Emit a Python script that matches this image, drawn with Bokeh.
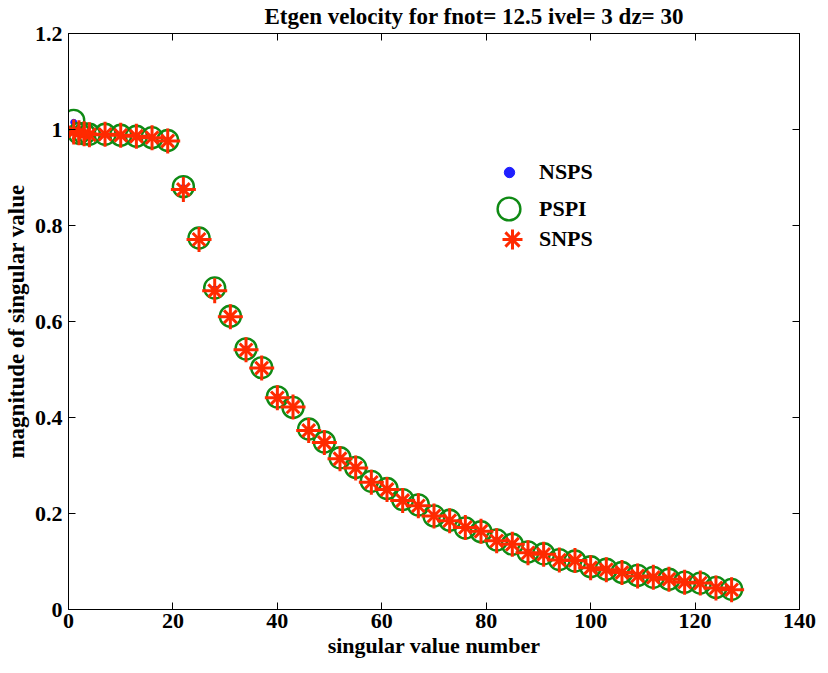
from bokeh.plotting import figure
from bokeh.models import (Range1d, LinearAxis, FixedTicker, Legend, LegendItem,
                          CustomLabelingPolicy)
from bokeh.embed import file_html
from bokeh.resources import INLINE

# ---------------- data ----------------
sv_number = [1, 2, 3, 4, 7, 10, 13, 16, 19, 22, 25, 28, 31, 34, 37, 40, 43, 46, 49,
             52, 55, 58, 61, 64, 67, 70, 73, 76, 79, 82, 85, 88, 91, 94, 97, 100,
             103, 106, 109, 112, 115, 118, 121, 124, 127]
nsps = [1.015, 0.994, 0.992, 0.990, 0.990, 0.988, 0.986, 0.983, 0.977, 0.879, 0.772,
        0.668, 0.610, 0.543, 0.503, 0.443, 0.422, 0.374, 0.349, 0.315, 0.296, 0.267,
        0.251, 0.228, 0.217, 0.196, 0.186, 0.171, 0.163, 0.144, 0.136, 0.120, 0.115,
        0.104, 0.102, 0.088, 0.084, 0.077, 0.071, 0.067, 0.063, 0.057, 0.055, 0.046, 0.042]
pspi = [1.019, 0.992, 0.991, 0.990, 0.990, 0.988, 0.986, 0.983, 0.977, 0.881, 0.774,
        0.670, 0.611, 0.543, 0.504, 0.443, 0.421, 0.376, 0.349, 0.316, 0.296, 0.267,
        0.252, 0.229, 0.218, 0.195, 0.186, 0.170, 0.162, 0.145, 0.136, 0.120, 0.116,
        0.104, 0.101, 0.089, 0.084, 0.077, 0.071, 0.067, 0.063, 0.057, 0.055, 0.046, 0.042]
snps = [0.995, 0.993, 0.991, 0.989, 0.990, 0.988, 0.986, 0.983, 0.976, 0.875, 0.771,
        0.664, 0.610, 0.541, 0.503, 0.441, 0.422, 0.373, 0.348, 0.314, 0.295, 0.265,
        0.250, 0.227, 0.216, 0.195, 0.185, 0.171, 0.163, 0.143, 0.136, 0.118, 0.115,
        0.103, 0.102, 0.087, 0.083, 0.077, 0.070, 0.067, 0.063, 0.057, 0.055, 0.045, 0.041]

x_ticks = [0, 20, 40, 60, 80, 100, 120, 140]
y_ticks = [0, 0.2, 0.4, 0.6, 0.8, 1.0, 1.2]
y_tick_labels = ["0", "0.2", "0.4", "0.6", "0.8", "1", "1.2"]

title_text = "Etgen velocity for fnot= 12.5 ivel= 3 dz= 30"
x_label = "singular value number"
y_label = "magnitude of singular value"
series_names = ["NSPS", "PSPI", "SNPS"]

FONT = "Liberation Serif"
BLUE = "#1f1fff"
GREEN = "#0f8a14"
RED = "#ff2a00"

# ---------------- figure ----------------
p = figure(width=820, height=665,
           x_range=Range1d(0, 140), y_range=Range1d(0, 1.2),
           output_backend="svg", toolbar_location=None,
           min_border_left=64, min_border_right=21,
           min_border_top=32, min_border_bottom=56)

p.xgrid.visible = False
p.ygrid.visible = False
p.outline_line_color = "black"
p.outline_line_width = 1
p.background_fill_color = "white"
p.border_fill_color = "white"

p.title.text = title_text
p.title.align = "left"
p.title.text_font = FONT
p.title.text_font_style = "bold"
p.title.text_font_size = "23px"
p.title.text_color = "black"
p.title.standoff = 2
p.title.offset = 196

hide_all = CustomLabelingPolicy(code="""
    const arr = [...indices]
    for (const i of arr) indices.unset(i)
    return indices
""")

def style_axis(ax, show_labels=True):
    ax.axis_line_color = "black"
    ax.major_tick_line_color = "black"
    ax.major_tick_in = 7
    ax.major_tick_out = 0
    ax.minor_tick_line_color = None
    if show_labels:
        ax.major_label_text_font = FONT
        ax.major_label_text_font_style = "bold"
        ax.major_label_text_font_size = "22px"
        ax.major_label_text_color = "black"
        ax.axis_label_text_font = FONT
        ax.axis_label_text_font_style = "bold"
        ax.axis_label_text_font_size = "22px"
        ax.axis_label_text_color = "black"
    else:
        ax.major_label_policy = hide_all
        ax.major_label_text_font_size = "1px"
        ax.major_label_standoff = 0

xa = p.xaxis[0]
ya = p.yaxis[0]
xa.ticker = FixedTicker(ticks=x_ticks)
ya.ticker = FixedTicker(ticks=y_ticks)
ya.major_label_overrides = {t: l for t, l in zip(y_ticks, y_tick_labels)}
xa.axis_label = x_label
ya.axis_label = y_label
style_axis(xa)
style_axis(ya)
ya.axis_label_text_font_size = "23px"
xa.major_label_standoff = 4
xa.axis_label_standoff = 2
ya.major_label_standoff = 6
ya.axis_label_standoff = 3

top_ax = LinearAxis(ticker=FixedTicker(ticks=x_ticks))
right_ax = LinearAxis(ticker=FixedTicker(ticks=y_ticks))
style_axis(top_ax, show_labels=False)
style_axis(right_ax, show_labels=False)
p.add_layout(top_ax, "above")
p.add_layout(right_ax, "right")

# ---------------- markers ----------------
r_n = p.scatter(sv_number, nsps, marker="circle", size=6,
                fill_color=BLUE, line_color=BLUE)
r_p = p.scatter(sv_number, pspi, marker="circle", size=21,
                fill_color=None, line_color=GREEN, line_width=2.4)
r_s1 = p.scatter(sv_number, snps, marker="cross", size=25,
                 line_color=RED, line_width=3)
r_s2 = p.scatter(sv_number, snps, marker="x", size=18,
                 line_color=RED, line_width=3)

# ---------------- legends (one per entry, to size each glyph) ----------------
def make_legend(label, renderers, glyph, loc, standoff):
    lg = Legend(items=[LegendItem(label=label, renderers=renderers)],
                location=loc, glyph_width=glyph, glyph_height=glyph,
                label_standoff=standoff, padding=0, margin=0, spacing=0,
                border_line_color=None, background_fill_alpha=0,
                label_text_font=FONT, label_text_font_style="bold",
                label_text_font_size="22px", label_text_color="black",
                label_height=20)
    p.add_layout(lg, "center")

make_legend(series_names[0], [r_n], 26, (428, 424), 17)
make_legend(series_names[1], [r_p], 57, (412, 372), 2)
make_legend(series_names[2], [r_s1, r_s2], 50, (419, 345), 2)

open("out.html", "w").write(file_html(p, INLINE))
